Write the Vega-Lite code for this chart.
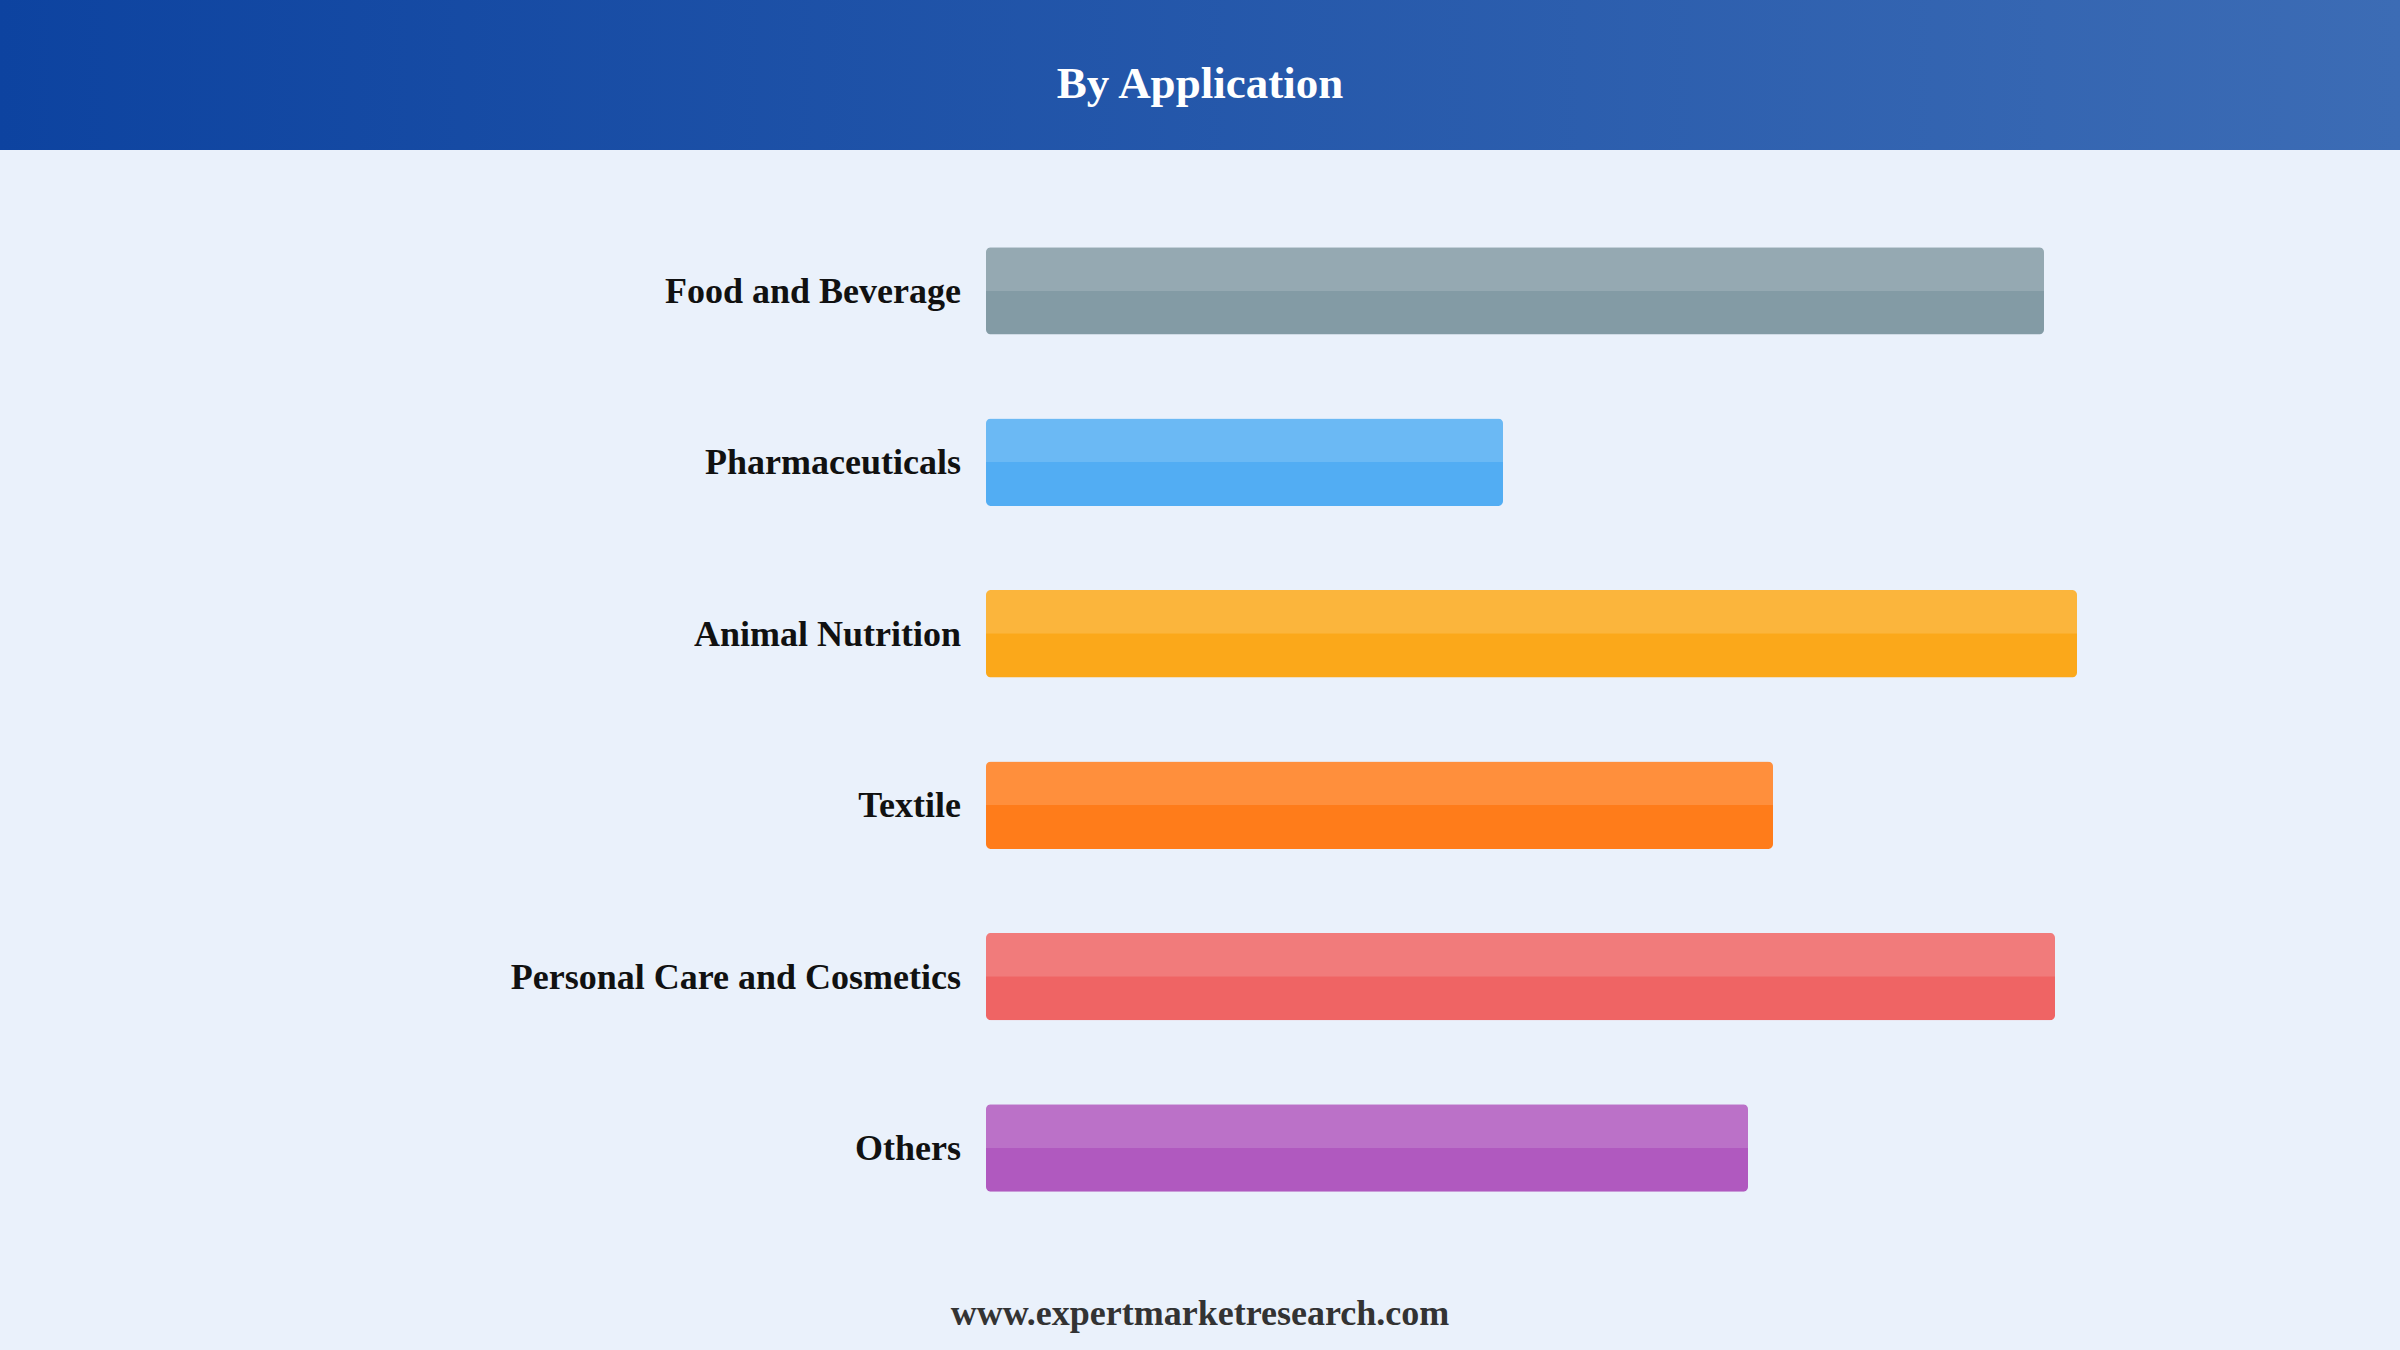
{
  "$schema": "https://vega.github.io/schema/vega-lite/v6.json",
  "background": "#eaf1fb",
  "padding": 0,
  "spacing": 0,
  "config": {"view": {"stroke": null}, "concat": {"spacing": 0}},
  "vconcat": [
    {
      "width": 2400,
      "height": 150,
      "data": {"values": [{"title": "By Application"}]},
      "layer": [
        {
          "mark": {
            "type": "rect",
            "fill": {
              "gradient": "linear",
              "x1": 0, "x2": 1, "y1": 0, "y2": 0,
              "stops": [
                {"offset": 0, "color": "#0d43a0"},
                {"offset": 1, "color": "#3c6cb5"}
              ]
            }
          },
          "encoding": {}
        },
        {
          "mark": {
            "type": "text",
            "font": "Liberation Serif",
            "fontSize": 45,
            "fontWeight": "bold",
            "color": "#ffffff",
            "align": "center",
            "baseline": "middle",
            "dy": 9
          },
          "encoding": {"text": {"field": "title"}}
        }
      ]
    },
    {
      "width": 2400,
      "height": 1120,
      "data": {
        "values": [
          {"application": "Food and Beverage", "value": 105.8},
          {"application": "Pharmaceuticals", "value": 51.7},
          {"application": "Animal Nutrition", "value": 109.1},
          {"application": "Textile", "value": 78.7},
          {"application": "Personal Care and Cosmetics", "value": 106.9},
          {"application": "Others", "value": 76.2}
        ]
      },
      "encoding": {
        "y": {
          "field": "application",
          "type": "nominal",
          "sort": null,
          "scale": {"paddingInner": 0.49, "paddingOuter": 0.5115, "align": 0.554},
          "axis": null
        }
      },
      "layer": [
        {
          "mark": {"type": "bar", "cornerRadius": 5},
          "encoding": {
            "x": {
              "field": "value",
              "type": "quantitative",
              "scale": {"domain": [-98.6, 141.4], "nice": false, "zero": false},
              "axis": null
            },
            "color": {
              "field": "application",
              "type": "nominal",
              "scale": {
                "domain": ["Food and Beverage", "Pharmaceuticals", "Animal Nutrition", "Textile", "Personal Care and Cosmetics", "Others"],
                "range": ["#839ba5", "#52adf3", "#fba81a", "#ff7c1a", "#ef6464", "#b059bf"]
              },
              "legend": null
            }
          }
        },
        {
          "mark": {
            "type": "bar",
            "color": "#ffffff",
            "opacity": 0.15,
            "cornerRadiusTopLeft": 5,
            "cornerRadiusTopRight": 5
          },
          "encoding": {
            "x": {"field": "value", "type": "quantitative"},
            "yOffset": {
              "datum": "top",
              "scale": {"domain": ["top", "bottom"], "paddingInner": 0, "paddingOuter": 0}
            }
          }
        },
        {
          "mark": {
            "type": "text",
            "align": "right",
            "baseline": "middle",
            "dx": -25,
            "dy": 1,
            "font": "Liberation Serif",
            "fontSize": 36,
            "fontWeight": "bold",
            "color": "#111111"
          },
          "encoding": {
            "x": {"datum": 0},
            "text": {"field": "application"}
          }
        }
      ]
    },
    {
      "width": 2400,
      "height": 80,
      "data": {"values": [{"site": "www.expertmarketresearch.com"}]},
      "mark": {
        "type": "text",
        "font": "Liberation Serif",
        "fontSize": 36,
        "fontWeight": "bold",
        "color": "#333333",
        "align": "center",
        "baseline": "middle",
        "dy": 4
      },
      "encoding": {"text": {"field": "site"}}
    }
  ]
}
